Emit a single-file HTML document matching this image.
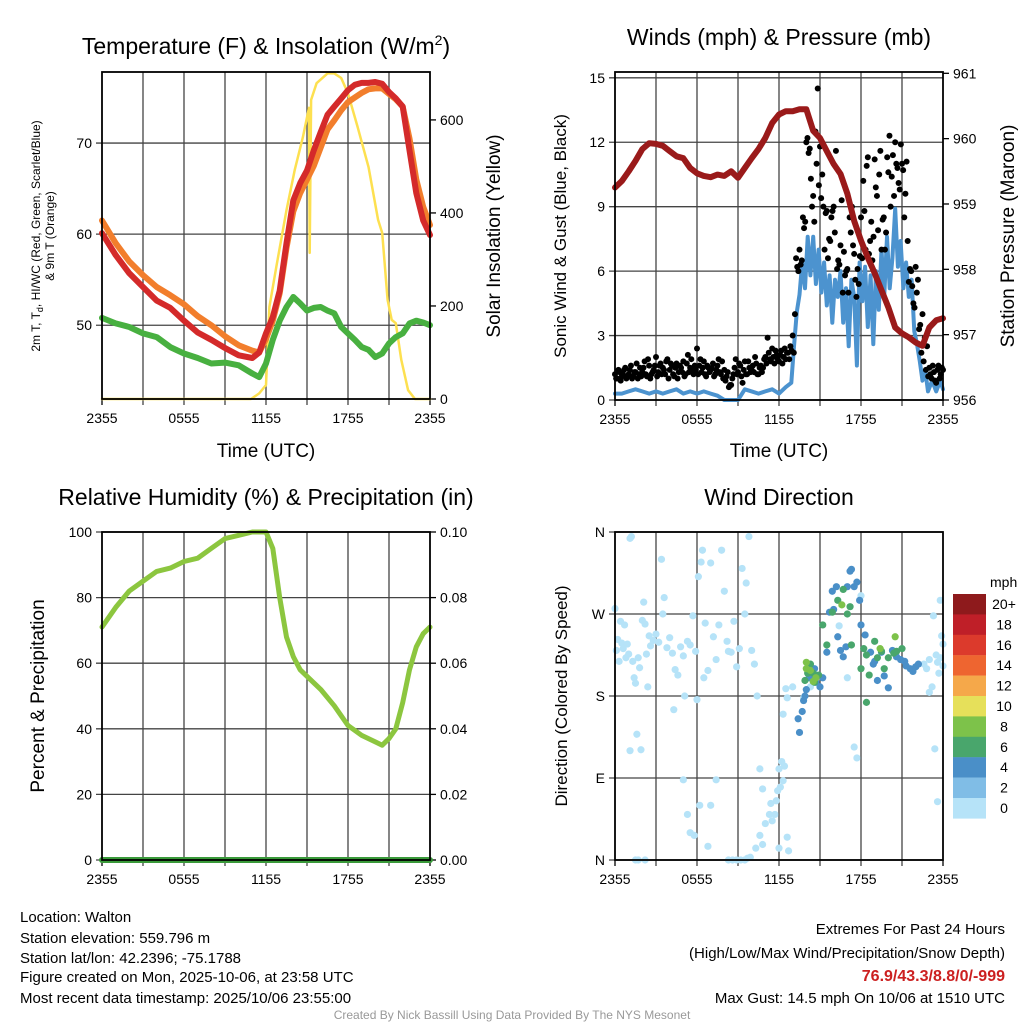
<!DOCTYPE html>
<html><head><meta charset="utf-8"><style>
html,body{margin:0;padding:0;background:#fff;}
svg{display:block;font-family:"Liberation Sans",sans-serif;}
</style></head><body>
<svg id="root" width="1024" height="1024" viewBox="0 0 1024 1024">
<rect width="1024" height="1024" fill="#fff"/>
<g id="grid"></g>
<g id="marks"></g>
<g id="frames"></g>
<!-- titles -->
<text x="266" y="54" font-size="23" text-anchor="middle">Temperature (F) &amp; Insolation (W/m<tspan font-size="14" dy="-9">2</tspan><tspan dy="9">)</tspan></text>
<text x="779" y="45" font-size="23" text-anchor="middle">Winds (mph) &amp; Pressure (mb)</text>
<text x="266" y="505" font-size="23" text-anchor="middle">Relative Humidity (%) &amp; Precipitation (in)</text>
<text x="779" y="505" font-size="23" text-anchor="middle">Wind Direction</text>
<!-- axis titles -->
<text x="266" y="457" font-size="19" text-anchor="middle">Time (UTC)</text>
<text x="779" y="457" font-size="19" text-anchor="middle">Time (UTC)</text>
<text transform="translate(40,236) rotate(-90)" font-size="12" text-anchor="middle">2m T, T<tspan font-size="9" dy="3">d</tspan><tspan dy="-3">, HI/WC (Red, Green, Scarlet/Blue)</tspan></text>
<text transform="translate(54,236) rotate(-90)" font-size="12" text-anchor="middle">&amp; 9m T (Orange)</text>
<text transform="translate(500,236) rotate(-90)" font-size="19" text-anchor="middle">Solar Insolation (Yellow)</text>
<text transform="translate(566,236) rotate(-90)" font-size="17" text-anchor="middle">Sonic Wind &amp; Gust (Blue, Black)</text>
<text transform="translate(1014,236) rotate(-90)" font-size="19" text-anchor="middle">Station Pressure (Maroon)</text>
<text transform="translate(44,696) rotate(-90)" font-size="19" text-anchor="middle">Percent &amp; Precipitation</text>
<text transform="translate(567,696) rotate(-90)" font-size="17" text-anchor="middle">Direction (Colored By Speed)</text>
<g id="ticklabels" font-size="14"></g>
<!-- colorbar -->
<g id="colorbar"></g>
<text x="990" y="587" font-size="14">mph</text>
<!-- footer -->
<g font-size="15">
<text x="20" y="922">Location: Walton</text>
<text x="20" y="943">Station elevation: 559.796 m</text>
<text x="20" y="963">Station lat/lon: 42.2396; -75.1788</text>
<text x="20" y="982">Figure created on Mon, 2025-10-06, at 23:58 UTC</text>
<text x="20" y="1003">Most recent data timestamp: 2025/10/06 23:55:00</text>
</g>
<g font-size="15" text-anchor="end">
<text x="1005" y="934">Extremes For Past 24 Hours</text>
<text x="1005" y="958">(High/Low/Max Wind/Precipitation/Snow Depth)</text>
<text x="1005" y="981" fill="#cc2020" font-weight="bold" font-size="16">76.9/43.3/8.8/0/-999</text>
<text x="1005" y="1003">Max Gust: 14.5 mph On 10/06 at 1510 UTC</text>
</g>
<text x="512" y="1019" font-size="12" fill="#999" text-anchor="middle">Created By Nick Bassill Using Data Provided By The NYS Mesonet</text>
</svg>
<script>
// ---------- data ----------
const hrs = [0,0.5,1,1.5,2,2.5,3,3.5,4,4.5,5,5.5,6,6.5,7,7.5,8,8.5,9,9.5,10,10.5,11,11.5,12,12.5,13,13.5,14,14.5,15,15.5,16,16.5,17,17.5,18,18.5,19,19.5,20,20.5,21,21.5,22,22.5,23,23.5,24];
const tempHours = [0,1,2,3,4,5,6,7,8,9,10,11,11.5,12,12.5,13,13.5,14,14.5,15,15.5,16,16.5,17,17.5,18,18.5,19,19.5,20,20.5,21,21.5,22,22.5,23,23.5,24];
const temp2m = [60.1,57.7,55.7,54.2,52.7,51.9,50.5,49.2,48.4,47.5,46.7,46.4,47,49.1,50.9,53.8,59,63.7,65.6,67,69.2,71.2,73.1,74,74.9,75.8,76.4,76.6,76.6,76.7,76.5,75.6,74.9,74,69.2,64.5,61.5,59.9];
const temp9m = [61.5,59,57,55.5,54.2,53.3,52.3,51,50,48.8,47.8,47.2,47,48.5,50.5,53.5,58.5,62.5,64.5,66,67.5,69.5,71.5,72.5,73.6,74.5,75,75.5,75.9,76,76,75.4,74.8,74,70.5,66,63,61];
const dewpoint = [50.8,50.2,49.8,49.1,48.7,47.6,46.9,46.4,45.8,45.9,45.6,44.7,44.3,45.8,48.4,50.5,52,53.1,52.4,51.6,51.9,52,51.6,51.3,49.8,49.1,48.4,47.6,47.3,46.5,46.9,48,48.7,49.1,50.2,50.5,50.3,50];
const solarHours = [0,10.9,11.5,12,12.25,12.75,13.5,14.1,14.7,15.15,15.2,15.3,15.7,16.5,17,17.5,18,18.7,19.5,20.2,20.5,20.9,21.2,21.5,21.9,22.4,22.9,24];
const solar = [0,0,12,30,198,284,406,492,563,626,314,643,679,700,700,690,657,585,499,385,357,213,170,163,84,19,0,0];
const pressure = [959.25,959.35,959.5,959.66,959.84,959.93,959.92,959.89,959.81,959.73,959.7,959.55,959.47,959.43,959.41,959.45,959.43,959.5,959.4,959.55,959.7,959.84,960.01,960.24,960.37,960.42,960.42,960.45,960.45,960.12,960.01,959.81,959.61,959.46,959.16,958.74,958.44,958.18,957.94,957.68,957.42,957.11,957.02,956.96,956.88,956.83,957.11,957.22,957.25];
const windHours = [0,0.5,1,1.5,2,2.5,3,3.5,4,4.5,5,5.5,6,6.5,7,7.5,8,8.5,9,9.5,10,10.5,11,11.5,12,12.5,12.9,13.1,13.3,13.5,13.7,13.9,14.1,14.3,14.5,14.7,14.9,15.1,15.3,15.5,15.7,15.9,16.1,16.3,16.5,16.7,16.9,17.1,17.3,17.5,17.7,17.9,18.1,18.3,18.5,18.7,18.9,19.1,19.3,19.5,19.7,19.9,20.1,20.3,20.5,20.7,20.9,21.1,21.3,21.5,21.7,21.9,22.1,22.3,22.5,22.7,22.9,23.2,23.5,23.8,24];
const windSpeed = [0.3,0.3,0.4,0.5,0.4,0.3,0.4,0.3,0.4,0.5,0.3,0.4,0.3,0.4,0.3,0.2,0,0,0,0.5,0.4,0.3,0.4,0.5,0.3,0.6,0.8,2.5,4.1,4.9,6.4,5.2,7.6,5.8,7.6,5.4,7,5,6.4,4.4,5.8,3.6,5.6,4.8,6,3.6,5.2,2.5,5.6,4.8,1.6,6.4,4.6,6.2,3.4,5.8,2.6,6,4.2,7,4.8,7.6,5.2,6.6,8.9,6.2,7.4,5.2,6.4,4.8,5.6,3.2,2.6,1.8,0.9,1.4,0.4,0.9,0.4,0.9,0.5];
const gusts = [1.2,1.0,1.3,1.1,1.4,1.0, 1.2,1.6,1.1,1.3,1.0,1.5, 1.3,1.8,1.1,1.6,1.2,1.4, 2.0,1.3,1.7,1.5,1.2,1.9, 1.4,1.6,1.1,1.7,1.3,1.5, 1.8,1.2,2.1,1.5,1.4,1.6, 2.4,1.6,1.3,1.8,1.1,1.5, 1.4,1.7,1.2,1.6,1.3,1.8, 1.4,1.1,0.6,0.7,1.2,1.9, 1.3,1.6,0.8,1.8,1.2,1.5, 1.4,1.3,1.7,1.2,1.6,1.5, 2.0,2.9,1.9,2.4,1.7,2.1, 1.8,2.3,2.0,1.9,2.2,2.5, 3.0,4.0,6.2,7.0,6.5,8.0, 12.0,11.5,10.3,9.5,12.5,14.5, 11.8,10.5,7.0,8.8,7.5,8.5, 9.0,11.6,6.5,7.2,5.0,5.8, 6.1,8.5,9.0,6.8,4.8,5.4, 8.5,10.2,7.0,11.3,7.4,6.5, 11.2,9.5,10.5,7.0,8.5,7.8, 10.6,9.0,11.4,12.0,10.8,9.8, 11.0,8.5,11.1,5.5,6.0,4.5, 6.2,5.6,3.5,4.0,2.9,2.5, 1.5,1.0,1.3,0.8,1.6,1.2, 1.4];
const gusts2 = [1.0,1.4,0.9,1.2,1.5,1.1, 1.4,1.0,1.3,1.7,1.2,1.1, 1.5,1.2,1.9,1.0,1.3,1.6, 1.1,1.6,1.2,1.4,1.8,1.0, 1.7,1.2,1.5,1.0,1.6,1.3, 1.1,1.7,1.3,1.9,1.2,1.4, 1.2,1.9,1.5,1.2,1.6,1.3, 1.5,1.1,1.4,1.9,1.2,1.0, 0.9,1.3,0.7,1.0,1.5,1.2, 1.7,1.1,1.4,1.2,1.8,1.3, 1.6,2.0,1.2,1.5,1.3,1.9, 1.7,2.2,1.8,2.0,2.3,1.9, 2.1,1.7,2.4,2.2,1.9,2.3, 2.2,6.6,6.0,6.3,8.5,8.3, 12.2,11.7,9.0,8.3,11.0,10.0, 9.4,9.0,8.7,6.6,7.4,8.8, 7.8,6.1,6.3,9.3,6.9,6.0, 5.0,7.8,7.2,5.6,6.1,6.7, 6.6,8.8,10.9,6.8,8.3,7.6, 9.9,7.9,11.6,8.4,7.0,11.3, 12.3,10.4,9.5,11.0,10.1,11.9, 10.7,9.6,7.4,6.1,5.3,4.3, 5.0,3.3,2.2,1.8,1.4,1.1, 1.2,1.6,0.9,1.4,1.0,1.5, 1.3];
const rhHours = [0,1,2,3,4,5,6,7,8,9,10,11,11.5,12,12.5,13,13.5,14,14.5,15,16,17,18,19,20,20.5,21,21.5,22,22.5,23,23.5,24];
const rh = [71,77,82,85,88,89,91,92,95,98,99,100,100,100,95,80,68,62,58,56,52,47,41,38,36,35,37,40,48,58,65,69,71];
const precip = [0,0,0,0,0,0,0,0,0,0,0,0,0,0,0,0,0,0,0,0,0,0,0,0,0,0,0,0,0,0,0,0,0];
const dirHours = [0.0,0.1,0.2,0.3,0.4,0.5,0.6,0.7,0.8,0.9,1.0,1.1,1.2,1.3,1.4,1.5,1.6,1.7,1.8,1.9,2.0,2.1,2.2,2.3,2.4,2.5,2.6,2.8,3.0,3.2,3.4,3.5,3.6,3.8,4.0,4.2,4.3,4.4,4.6,4.8,5.0,5.1,5.3,5.5,5.7,5.9,6.0,6.1,6.3,6.4,6.5,6.6,6.8,7.0,7.2,7.4,7.6,7.8,8.0,8.2,8.3,8.5,8.7,8.9,9.1,9.3,9.5,9.6,9.8,10.0,10.2,10.4,10.6,10.8,5.0,5.3,6.2,7.0,7.4,6.8,5.8,5.5,1.5,1.7,2.2,8.3,8.6,8.9,9.2,9.5,9.7,9.9,10.3,10.8,10.6,11.0,11.5,11.3,11.4,11.7,11.8,11.9,12.1,12.3,12.0,12.2,12.4,12.0,12.6,12.7,12.3,12.5,12.6,13.0,1.1,23.0,23.2,23.5,23.6,23.7,23.8,24.0,24.0,23.9,23.8,23.3,23.0,22.8,22.6,23.4,23.6,17.0,17.7,17.5,18.0,16.4,14.3,13.8,
13.4,13.5,13.7,13.8,13.9,14.0,14.2,14.4,14.6,14.7,15.0,15.2,15.5,15.7,15.9,16.0,16.2,16.3,16.5,16.7,16.9,17.0,17.2,17.3,17.5,17.7,17.9,18.0,18.3,18.7,18.9,19.0,19.2,19.5,19.7,20.0,20.3,20.6,20.9,21.3,21.6,21.8,22.0,22.2,21.2,
13.9,14.1,14.3,14.6,14.5,14.9,15.2,15.5,15.9,16.3,16.7,17.2,17.0,17.3,18.0,18.2,18.4,18.6,19.0,19.2,19.5,19.7,20.0,20.4,20.6,21.0,18.4,
14.0,14.3,14.5,14.7,14.0,20.5,16.6,19.4];
const dirDeg = [276,230,242,218,262,238,232,258,222,237,226,353,355,218,200,194,138,222,211,121,263,283,259,226,190,246,235,241,248,239,330,270,288,233,244,227,165,209,203,234,224,180,240,236,268,229,176,311,327,340,200,260,208,326,245,220,258,340,295,240,229,228,262,212,232,320,270,304,355,230,215,180,100,78,88,50,60,60,88,15,27,30,0,0,0,0,0,0,0,0,2,3,13,17,27,40,43,50,62,50,65,76,80,87,100,108,103,13,25,10,160,188,178,190,120,184,190,225,217,205,222,237,213,246,285,268,220,210,215,122,64,200,112,124,290,257,190,178,
155,140,163,175,180,187,200,207,210,195,190,200,228,272,295,275,300,245,230,223,234,300,317,319,300,305,285,258,247,228,215,218,197,228,202,189,230,223,220,213,210,207,212,215,218,
197,205,215,195,205,203,258,236,272,285,297,278,270,236,210,232,225,203,240,222,229,210,222,227,229,232,173,
210,208,196,200,217,245,280,232];
const dirSpeed = [1,1,1,1,1,1,1,1,1,1,1,1,1,1,1,1,1,1,1,1,1,1,1,1,1,1,1,1,1,1,1,1,1,1,1,1,1,1,1,1,1,1,1,1,1,1,1,1,1,1,1,1,1,1,1,1,1,1,1,1,1,1,1,1,1,1,1,1,1,1,1,1,1,1,1,1,1,1,1,1,1,1,1,1,1,1,1,1,1,1,1,1,1,1,1,1,1,1,1,1,1,1,1,1,1,1,1,1,1,1,1,1,1,1,1,1,1,1,1,1,1,1,1,1,1,1,1,1,1,1,1,1,1,1,1,1,1,1,
4,4,4,4,4,4,4,4,4,4,4,4,4,4,4,4,4,4,4,4,4,4,4,4,4,4,4,4,4,4,4,4,4,4,4,4,4,4,4,4,4,4,4,4,4,
6,6,6,6,6,6,6,6,6,6,6,6,6,6,6,6,6,6,6,6,6,6,6,6,6,6,6,
8,8,8,8,8,8,8,8];
const xTickLabels = ["2355","0555","1155","1755","2355"];
const tempTicks = [50,60,70];
const solarTicks = [0,200,400,600];
const windTicks = [0,3,6,9,12,15];
const pressTicks = [956,957,958,959,960,961];
const rhTicks = [0,20,40,60,80,100];
const precipTicks = ["0.00","0.02","0.04","0.06","0.08","0.10"];
const dirTicks = [0,90,180,270,360];
const dirTickLabels = ["N","E","S","W","N"];
const cbLabels = ["20+","18","16","14","12","10","8","6","4","2","0"];
const cbColors = ["#8e1a1c","#bf1f28","#dc3a2c","#ee6530","#f5a84a","#e6e05a","#7dc24a","#49a66c","#4a8fc8","#80bde6","#b6e3f8"];

// ---------- layout ----------
const NS="http://www.w3.org/2000/svg";
const P1={x:102,y:72,w:328,h:327}, P2={x:615,y:72,w:328,h:328}, P3={x:102,y:532,w:328,h:328}, P4={x:615,y:532,w:328,h:328};
function mk(parent, tag, attrs){const e=document.createElementNS(NS,tag);for(const k in attrs)e.setAttribute(k,attrs[k]);parent.appendChild(e);return e;}
const gGrid=document.getElementById('grid'), gMarks=document.getElementById('marks'), gFr=document.getElementById('frames'), gTL=document.getElementById('ticklabels');
function xs(P,h){return P.x+h/24*P.w;}
function ys(P,v,lo,hi){return P.y+P.h-(v-lo)/(hi-lo)*P.h;}
const T_LO=41.9,T_HI=77.8, S_LO=0,S_HI=703, W_LO=0,W_HI=15.27, PR_LO=956,PR_HI=961.02, RH_LO=0,RH_HI=100, D_LO=0,D_HI=360;

function pathOf(P,xsArr,vals,lo,hi){let d='';for(let i=0;i<vals.length;i++){d+=(i?'L':'M')+xs(P,xsArr[i]).toFixed(1)+','+ys(P,vals[i],lo,hi).toFixed(1);}return d;}

// grids and frames
[P1,P2,P3,P4].forEach((P,pi)=>{
  for(let k=1;k<8;k++){const x=xs(P,k*3);
    const l=mk(gGrid,'line',{x1:x,y1:P.y,x2:x,y2:P.y+P.h+6,stroke:'#444','stroke-width':1.3});
    
    }
  [0,24].forEach(h=>{const t=mk(gGrid,'line',{x1:xs(P,h),y1:P.y+P.h,x2:xs(P,h),y2:P.y+P.h+6,stroke:'#000','stroke-width':1.3});
    
    });
  for(let k=0;k<5;k++){const tl=mk(gTL,'text',{x:xs(P,k*6),y:P.y+P.h+24,'text-anchor':'middle'});tl.textContent=xTickLabels[k];
    
    }
  const fr=mk(gFr,'rect',{x:P.x,y:P.y,width:P.w,height:P.h,fill:'none',stroke:'#000','stroke-width':1.8});
  
  
});
function hgrid(P,vals,lo,hi,labels,side,name){
  vals.forEach((v,i)=>{const y=ys(P,v,lo,hi);
    if(side==='left'){const l=mk(gGrid,'line',{x1:P.x-6,y1:y,x2:P.x+P.w,y2:y,stroke:'#444','stroke-width':1.3});
      
      }
    const t=mk(gTL,'text',{x:side==='left'?P.x-10:P.x+P.w+10,y:y+5,'text-anchor':side==='left'?'end':'start'});
    t.textContent=labels?labels[i]:String(v);
    
    
    if(side==='right'){const tk=mk(gGrid,'line',{x1:P.x+P.w,y1:y,x2:P.x+P.w+6,y2:y,stroke:'#000','stroke-width':1.3});
      
      }
  });
}
hgrid(P1,tempTicks,T_LO,T_HI,null,'left','temp');
hgrid(P1,solarTicks,S_LO,S_HI,null,'right','solar');
hgrid(P2,windTicks,W_LO,W_HI,null,'left','wind');
hgrid(P2,pressTicks,PR_LO,PR_HI,null,'right','pressure');
hgrid(P3,rhTicks,RH_LO,RH_HI,null,'left','humidity');
hgrid(P3,rhTicks,RH_LO,RH_HI,precipTicks,'right','precip');
hgrid(P4,dirTicks,D_LO,D_HI,dirTickLabels,'left','direction');

function line(P,xa,va,lo,hi,color,w,name){const p=mk(gMarks,'path',{d:pathOf(P,xa,va,lo,hi),fill:'none',stroke:color,'stroke-width':w,'stroke-linejoin':'round','stroke-linecap':'round'});
  
  }

// panel 1
line(P1,solarHours,solar,S_LO,S_HI,'#fde050',2.5,'solar-insolation-line');
line(P1,tempHours,dewpoint,T_LO,T_HI,'#48b040',6,'dewpoint-line');
line(P1,tempHours,temp9m,T_LO,T_HI,'#f27e2c',6,'temp-9m-line');
line(P1,tempHours,temp2m,T_LO,T_HI,'#d42a2a',6,'temp-2m-line');
// panel 2
line(P2,windHours,windSpeed,W_LO,W_HI,'#4c93cf',4,'sonic-wind-line');
[gusts,gusts2].forEach((arr,k)=>{arr.forEach((g,i)=>{const h=(i+(k?0.5:0))/6; if(h>24)return;
  const c=mk(gMarks,'circle',{cx:xs(P2,h),cy:ys(P2,g,W_LO,W_HI),r:3,fill:'#000'});
  
  });});
line(P2,hrs,pressure,PR_LO,PR_HI,'#9a1a1a',6,'pressure-line');
// panel 3
line(P3,rhHours,rh,RH_LO,RH_HI,'#8cc63f',5,'humidity-line');
line(P3,rhHours,precip,RH_LO,RH_HI,'#3a9a3a',6,'precipitation-line');
// panel 4
const spdColor={1:'#b6e3f8',2:'#80bde6',4:'#4a8fc8',6:'#49a66c',8:'#7dc24a'};
dirHours.forEach((h,i)=>{const c=mk(gMarks,'circle',{cx:xs(P4,h),cy:ys(P4,dirDeg[i],D_LO,D_HI),r:3.6,fill:spdColor[dirSpeed[i]]});
  
  });
// colorbar
const cb=document.getElementById('colorbar');
cbColors.forEach((col,i)=>{const y=594+i*20.4;
  const r=mk(cb,'rect',{x:953,y:y,width:33,height:20.6,fill:col});
  
  
  const t=mk(cb,'text',{x:1004,y:y+15,'font-size':14,'text-anchor':'middle'});t.textContent=cbLabels[i];
  
  });
</script>
</body></html>
